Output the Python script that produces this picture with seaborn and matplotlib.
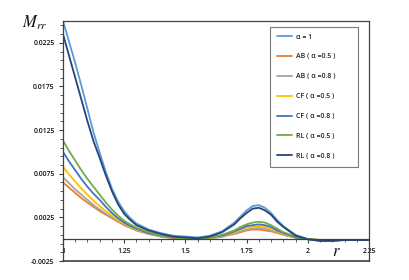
import matplotlib
matplotlib.use("Agg")
import matplotlib.pyplot as plt
from matplotlib.ticker import FixedLocator, MultipleLocator, FuncFormatter
import numpy as np
import pandas as pd
import seaborn as sns

# radial positions (denser where the curves bend)
r = [1.0, 1.025, 1.05, 1.075, 1.1, 1.125, 1.15, 1.175, 1.2, 1.225, 1.25, 1.275, 1.3, 1.35, 1.4, 1.45, 1.5,
     1.55, 1.6, 1.65, 1.7, 1.725, 1.75, 1.775, 1.8, 1.825, 1.85, 1.875, 1.9, 1.95, 2.0, 2.05, 2.1, 2.15, 2.2, 2.25]

# M_rr
alpha1 = [0.0250, 0.0226, 0.0202, 0.0176, 0.0149, 0.0122, 0.0099, 0.0077, 0.0058, 0.0043, 0.0032, 0.0024, 0.0018,
          0.0011, 0.0007, 0.0004, 0.0003,
          0.0002, 0.0004, 0.0009, 0.0019, 0.0026, 0.0033, 0.0038, 0.0039, 0.0036, 0.0030, 0.0022, 0.0015, 0.0005,
          0.0000, -0.0002, -0.0002, -0.0001, -0.0001, -0.0001]
ab05 = [0.0065, 0.0059, 0.0053, 0.0047, 0.0042, 0.0037, 0.0032, 0.0028, 0.0024, 0.0020, 0.0016, 0.0013, 0.0010,
        0.0006, 0.0003, 0.0001, 0.0000,
        0.0000, 0.0001, 0.0003, 0.0006, 0.0008, 0.0010, 0.0011, 0.0011, 0.0010, 0.0009, 0.0007, 0.0005, 0.0002,
        0.0000, -0.0001, -0.0001, -0.0001, -0.0001, -0.0001]
ab08 = [0.0071, 0.0064, 0.0057, 0.0051, 0.0045, 0.0039, 0.0034, 0.0029, 0.0025, 0.0021, 0.0017, 0.0013, 0.0010,
        0.0006, 0.0003, 0.0002, 0.0001,
        0.0000, 0.0001, 0.0003, 0.0007, 0.0009, 0.0011, 0.0012, 0.0013, 0.0012, 0.0010, 0.0008, 0.0005, 0.0002,
        0.0000, -0.0001, -0.0001, -0.0001, -0.0001, -0.0001]
cf05 = [0.0083, 0.0074, 0.0066, 0.0058, 0.0051, 0.0044, 0.0038, 0.0032, 0.0027, 0.0022, 0.0018, 0.0014, 0.0011,
        0.0007, 0.0004, 0.0002, 0.0001,
        0.0000, 0.0001, 0.0004, 0.0008, 0.0011, 0.0013, 0.0014, 0.0015, 0.0014, 0.0012, 0.0009, 0.0006, 0.0002,
        0.0000, -0.0001, -0.0001, -0.0001, -0.0001, -0.0001]
cf08 = [0.0100, 0.0089, 0.0079, 0.0069, 0.0060, 0.0052, 0.0045, 0.0037, 0.0030, 0.0024, 0.0019, 0.0015, 0.0012,
        0.0007, 0.0004, 0.0002, 0.0001,
        0.0000, 0.0002, 0.0004, 0.0009, 0.0012, 0.0015, 0.0016, 0.0017, 0.0016, 0.0014, 0.0010, 0.0007, 0.0002,
        0.0000, -0.0001, -0.0001, -0.0001, -0.0001, -0.0001]
rl05 = [0.0113, 0.0101, 0.0090, 0.0079, 0.0069, 0.0060, 0.0051, 0.0042, 0.0034, 0.0027, 0.0021, 0.0017, 0.0013,
        0.0008, 0.0004, 0.0002, 0.0001,
        0.0000, 0.0002, 0.0005, 0.0010, 0.0014, 0.0017, 0.0019, 0.0020, 0.0019, 0.0016, 0.0012, 0.0008, 0.0003,
        0.0000, -0.0001, -0.0001, -0.0001, -0.0001, -0.0001]
rl08 = [0.0235, 0.0210, 0.0185, 0.0160, 0.0135, 0.0112, 0.0093, 0.0073, 0.0055, 0.0040, 0.0029, 0.0022, 0.0016,
        0.0010, 0.0006, 0.0003, 0.0002,
        0.0001, 0.0003, 0.0008, 0.0017, 0.0024, 0.0030, 0.0035, 0.0036, 0.0033, 0.0028, 0.0020, 0.0014, 0.0004,
        0.0000, -0.0002, -0.0002, -0.0001, -0.0001, -0.0001]

labels = ["α = 1", "AB ( α =0.5 )", "AB ( α =0.8 )", "CF ( α =0.5 )",
          "CF ( α =0.8 )", "RL ( α =0.5 )", "RL ( α =0.8 )"]
series = [alpha1, ab05, ab08, cf05, cf08, rl05, rl08]
colors = ["#5B9BD5", "#ED7D31", "#A5A5A5", "#FFC000", "#4472C4", "#70AD47", "#264478"]

df = pd.concat([pd.DataFrame({"r": r, "M": s, "case": lab}) for s, lab in zip(series, labels)])

sns.set_style("white")
plt.rcParams["font.family"] = ["Open Sans", "DejaVu Sans"]
plt.rcParams["mathtext.fontset"] = "stix"

fig = plt.figure(figsize=(4.09, 2.80), dpi=100)
ax = fig.add_axes([63 / 409, 1 - 261 / 280, 306 / 409, 240 / 280])

sns.lineplot(data=df, x="r", y="M", hue="case", hue_order=labels,
             palette=colors, linewidth=1.3, ax=ax, legend=True)

ax.set_xlim(1, 2.25)
ax.set_ylim(-0.0025, 0.025)
ax.set_xlabel("")
ax.set_ylabel("")

edge = "#404040"
for s in ax.spines.values():
    s.set_color(edge)
    s.set_linewidth(0.9)
ax.spines["bottom"].set_position(("data", 0))
ax.axhline(-0.0025, color=edge, lw=1.2, clip_on=False)

ax.xaxis.set_major_locator(FixedLocator([1, 1.25, 1.5, 1.75, 2, 2.25]))
ax.xaxis.set_minor_locator(MultipleLocator(0.05))
ax.xaxis.set_major_formatter(FuncFormatter(lambda v, p: "{:g}".format(round(v, 4))))
ax.yaxis.set_major_locator(FixedLocator(np.arange(-0.0025, 0.0226, 0.005)))
ax.yaxis.set_minor_locator(FixedLocator(np.arange(-0.0025, 0.0251, 0.001)))
ax.yaxis.set_major_formatter(FuncFormatter(lambda v, p: "{:g}".format(round(v, 4))))

ax.tick_params(axis="both", which="both", direction="out", colors=edge,
               labelsize=5, labelcolor="#111111", bottom=True, left=True)
ax.tick_params(axis="both", which="major", length=3, width=0.8, pad=3)
ax.tick_params(axis="both", which="minor", length=2, width=0.6)
for t in ax.get_xticklabels() + ax.get_yticklabels():
    t.set_fontweight("semibold")

leg = ax.legend(loc="upper left", bbox_to_anchor=(207 / 306, 232 / 240, 88 / 306, 0.01),
                mode="expand", borderaxespad=0, fontsize=5, labelspacing=1.85,
                handlelength=2.2, handletextpad=0.5, borderpad=1.0,
                frameon=True, fancybox=False, edgecolor="#595959")
leg.get_frame().set_linewidth(0.8)
for line in leg.get_lines():
    line.set_linewidth(1.3)
for t in leg.get_texts():
    t.set_fontweight("semibold")

fig.text(22 / 409, 1 - 28 / 280, r"$M_{rr}$", fontsize=12, color="#111111")
fig.text(332 / 409, 1 - 256 / 280, r"$r$", fontsize=12, color="#111111")

fig.savefig("out.png", dpi=100)
